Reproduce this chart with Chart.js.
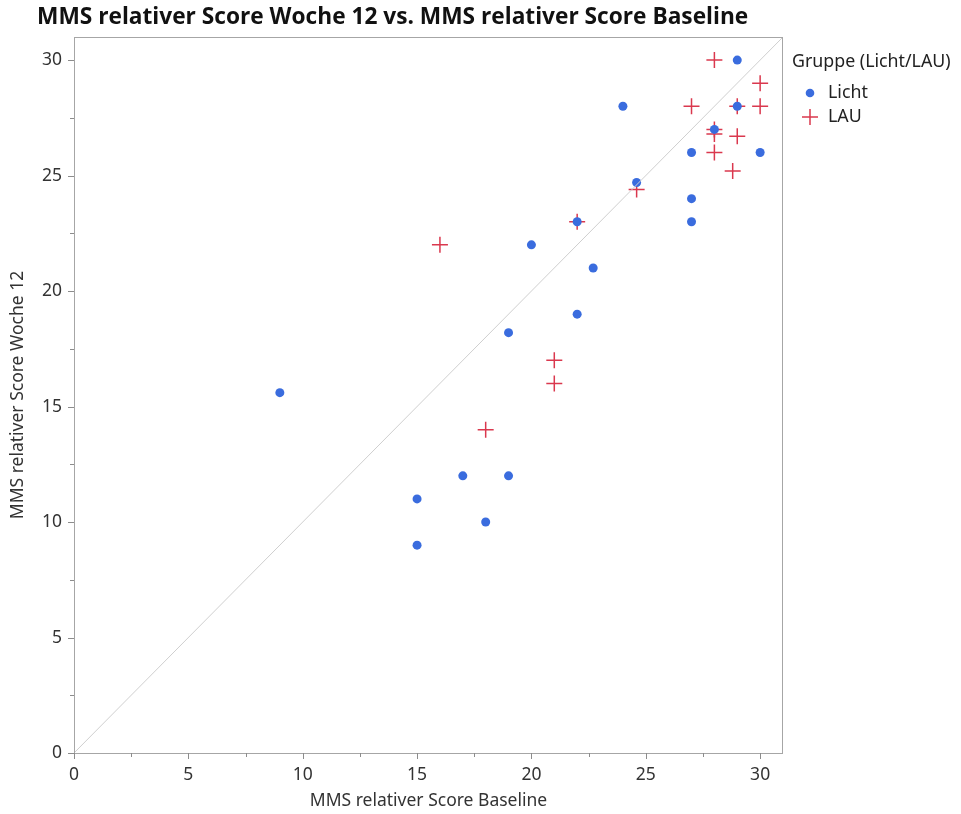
<!DOCTYPE html>
<html>
<head>
<meta charset="utf-8">
<script src="https://cdn.jsdelivr.net/npm/chart.js@4.4.0/dist/chart.umd.min.js"></script>
<style>
  html, body { margin: 0; padding: 0; background: #fff; }
  #wrap { width: 961px; height: 814px; position: relative; }
</style>
</head>
<body>
<div id="wrap"><canvas id="mms-scatter"></canvas></div>
<script>
// values
var lichtBaseline = [9, 15, 15, 17, 18, 19, 19, 20, 22, 22, 22.7, 24, 24.6, 27, 27, 27, 28, 29, 29, 30];
var lichtWoche12  = [15.6, 11, 9, 12, 10, 12, 18.2, 22, 19, 23, 21, 28, 24.7, 26, 24, 23, 27, 30, 28, 26];
var lauBaseline   = [16, 18, 21, 21, 22, 24.6, 27, 28, 28, 28, 28, 28.8, 29, 29, 30, 30];
var lauWoche12    = [22, 14, 17, 16, 23, 24.4, 28, 30, 27, 26.8, 26, 25.2, 28, 26.7, 29, 28];
var diagonal      = [0, 31];
var axisMin = 0, axisMax = 31, majorStep = 5, minorStep = 2.5;

var chartTitle = 'MMS relativer Score Woche 12 vs. MMS relativer Score Baseline';
var xTitle = 'MMS relativer Score Baseline';
var yTitle = 'MMS relativer Score Woche 12';
var legendTitle = 'Gruppe (Licht/LAU)';
var groupNames = ['Licht', 'LAU'];

var blue = 'rgb(58, 108, 222)';
var red = 'rgb(218, 56, 78)';
var fontFamily = '"Noto Sans", sans-serif';
var labelFont = '17.8px ' + fontFamily;

function toPoints(xs, ys) {
    var pts = [];
    for (var i = 0; i < xs.length; i++) pts.push({ x: xs[i], y: ys[i] });
    return pts;
}

// frame, tick marks, title and legend
var decorations = {
    id: 'decorations',
    afterDraw: function(chart) {
        var ctx = chart.ctx;
        var a = chart.chartArea;
        var xs = chart.scales.x, ys = chart.scales.y;
        ctx.save();
        ctx.strokeStyle = '#a6a6a6';
        ctx.lineWidth = 1;
        ctx.strokeRect(a.left + 0.5, a.top + 0.5, a.right - a.left - 1, a.bottom - a.top);

        ctx.strokeStyle = '#8c8c8c';
        xs.ticks.forEach(function(t) {
            var px = Math.round(xs.getPixelForValue(t.value)) + 0.5;
            var len = (t.value % majorStep === 0) ? 6 : 4;
            ctx.beginPath(); ctx.moveTo(px, a.bottom); ctx.lineTo(px, a.bottom + len); ctx.stroke();
        });
        ys.ticks.forEach(function(t) {
            var py = Math.round(ys.getPixelForValue(t.value)) + 0.5;
            var len = (t.value % majorStep === 0) ? 6 : 4;
            ctx.beginPath(); ctx.moveTo(a.left, py); ctx.lineTo(a.left - len, py); ctx.stroke();
        });

        // title
        ctx.fillStyle = '#111';
        ctx.font = 'bold 22.7px "Open Sans", sans-serif';
        ctx.textAlign = 'left';
        ctx.textBaseline = 'middle';
        ctx.fillText(chartTitle, 37, 18);

        // legend
        var lx = a.right + 9;
        ctx.font = labelFont;
        ctx.fillStyle = '#222';
        ctx.fillText(legendTitle, lx, 62);
        ctx.fillText(groupNames[0], lx + 36, 93);
        ctx.fillText(groupNames[1], lx + 36, 117);
        ctx.fillStyle = blue;
        ctx.beginPath(); ctx.arc(lx + 18, 93, 4.3, 0, Math.PI * 2); ctx.fill();
        ctx.strokeStyle = red;
        ctx.lineWidth = 1.5;
        ctx.beginPath();
        ctx.moveTo(lx + 10, 117); ctx.lineTo(lx + 26, 117);
        ctx.moveTo(lx + 18, 109); ctx.lineTo(lx + 18, 125);
        ctx.stroke();
        ctx.restore();
    }
};

var ctx = document.getElementById('mms-scatter');
var chart = new Chart(ctx, {
    type: 'scatter',
    plugins: [decorations],
    data: {
        datasets: [
            {
                type: 'line',
                label: 'diagonal',
                data: toPoints(diagonal, diagonal),
                borderColor: '#cfcfcf',
                borderWidth: 1,
                pointRadius: 0,
                fill: false
            },
            {
                label: groupNames[0],
                data: toPoints(lichtBaseline, lichtWoche12),
                pointStyle: 'circle',
                pointRadius: 4.5,
                backgroundColor: blue,
                borderColor: blue,
                borderWidth: 0
            },
            {
                label: groupNames[1],
                data: toPoints(lauBaseline, lauWoche12),
                pointStyle: 'cross',
                pointRadius: 8,
                borderColor: red,
                backgroundColor: red,
                borderWidth: 1.5
            }
        ]
    },
    options: {
        responsive: true,
        maintainAspectRatio: false,
        animation: false,
        layout: { padding: { left: 0, right: 178, top: 37, bottom: 0 } },
        plugins: {
            legend: { display: false },
            tooltip: { enabled: false },
            title: { display: false }
        },
        scales: {
            x: {
                type: 'linear',
                min: axisMin,
                max: axisMax,
                afterFit: function(s) { s.height = 61; },
                grid: { display: false, drawTicks: false },
                border: { display: false },
                ticks: {
                    stepSize: minorStep,
                    includeBounds: false,
                    autoSkip: false,
                    maxRotation: 0,
                    padding: 12,
                    color: '#333',
                    font: { family: fontFamily, size: 17.5 },
                    callback: function(v) { return v % majorStep === 0 ? v : ''; }
                },
                title: {
                    display: true,
                    text: xTitle,
                    color: '#333',
                    padding: { top: 0, bottom: 2 },
                    font: { family: fontFamily, size: 17.5 }
                }
            },
            y: {
                type: 'linear',
                min: axisMin,
                max: axisMax,
                afterFit: function(s) { s.width = 74; },
                grid: { display: false, drawTicks: false },
                border: { display: false },
                ticks: {
                    stepSize: minorStep,
                    includeBounds: false,
                    autoSkip: false,
                    padding: 12,
                    color: '#333',
                    font: { family: fontFamily, size: 17.5 },
                    callback: function(v) { return v % majorStep === 0 ? v : ''; }
                },
                title: {
                    display: true,
                    text: yTitle,
                    color: '#333',
                    padding: { top: 8, bottom: 0 },
                    font: { family: fontFamily, size: 17.5 }
                }
            }
        }
    }
});
</script>
</body>
</html>
